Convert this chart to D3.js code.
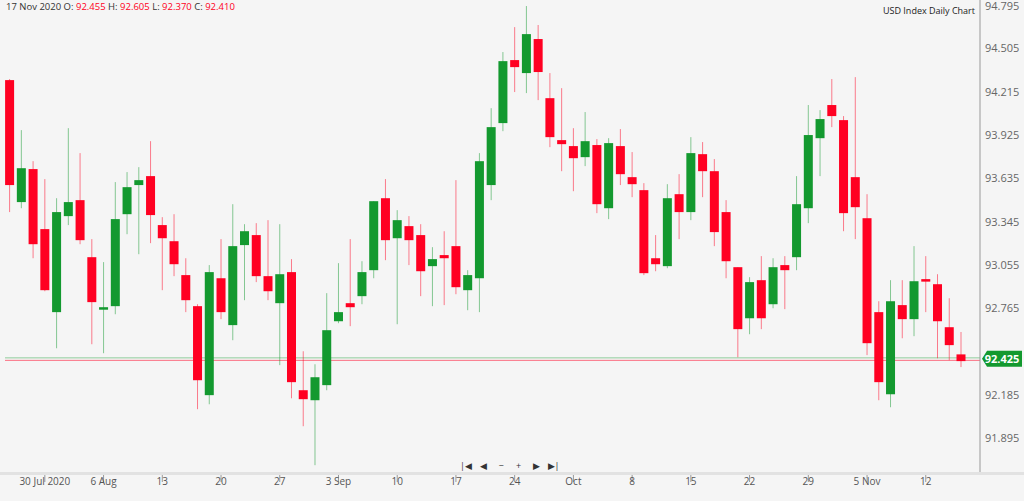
<!DOCTYPE html>
<html><head><meta charset="utf-8">
<script src="https://cdn.jsdelivr.net/npm/d3@7"></script>
<style>body{margin:0;background:#f5f5f5;font-family:"Open Sans",sans-serif}</style>
</head><body><div id="chart"></div>
<script>
// daily OHLC, 27 Jul 2020 .. 17 Nov 2020 (weekdays)
const opens = [94.292,93.475,93.696,93.294,92.738,93.381,93.488,93.106,92.764,92.778,93.394,93.589,93.649,93.321,93.213,92.986,92.778,92.182,92.965,92.651,93.187,93.254,92.979,92.798,93.006,92.215,92.148,92.249,92.677,92.798,92.845,93.019,93.501,93.233,93.314,93.254,93.046,93.120,93.180,92.885,92.965,93.589,94.004,94.426,94.339,94.567,94.171,93.890,93.850,93.776,93.857,93.434,93.850,93.642,93.555,93.099,93.046,93.528,93.408,93.796,93.682,93.408,93.039,92.697,92.952,92.791,93.053,93.106,93.434,93.903,94.125,94.024,93.642,93.367,92.738,92.188,92.785,92.691,92.959,92.925,92.637,92.455];
const highs = [94.299,93.957,93.749,93.629,93.501,93.970,93.803,93.227,93.073,93.609,93.676,93.709,93.883,93.374,93.394,93.099,92.791,93.053,93.227,93.461,93.327,93.334,93.354,93.327,93.093,92.476,92.389,92.865,93.066,93.227,93.079,93.481,93.629,93.421,93.381,93.327,93.173,93.280,93.622,93.019,93.803,94.104,94.480,94.647,94.788,94.661,94.339,94.238,93.970,94.078,93.897,93.903,93.964,93.810,93.602,93.254,93.595,93.662,93.910,93.877,93.763,93.488,93.039,92.972,93.113,93.099,93.113,93.649,94.125,94.091,94.299,94.051,94.312,93.528,92.811,92.952,92.952,93.180,93.113,92.992,92.831,92.605];
const lows = [93.408,93.434,93.099,92.878,92.496,93.321,93.193,92.523,92.463,92.724,93.260,93.126,93.200,92.885,92.979,92.738,92.088,92.121,92.691,92.550,92.818,92.939,92.818,92.383,92.161,91.974,91.713,92.215,92.664,92.644,92.791,92.965,93.086,92.657,93.053,92.845,92.778,92.785,92.858,92.751,92.738,93.488,93.950,94.212,94.205,94.158,93.843,93.682,93.548,93.716,93.401,93.361,93.589,93.508,92.986,93.012,93.032,93.227,93.354,93.508,93.180,92.965,92.436,92.590,92.624,92.764,92.758,93.019,93.334,93.649,93.977,93.280,93.227,92.450,92.148,92.101,92.563,92.577,92.738,92.429,92.416,92.370];
const closes = [93.589,93.702,93.193,92.885,93.408,93.475,93.220,92.805,92.771,93.361,93.575,93.622,93.388,93.233,93.059,92.818,92.282,93.006,92.738,93.180,93.280,92.979,92.878,92.992,92.269,92.155,92.302,92.617,92.738,92.771,93.006,93.481,93.220,93.354,93.220,93.012,93.093,93.099,92.905,92.986,93.749,93.977,94.419,94.379,94.600,94.346,93.910,93.863,93.769,93.883,93.461,93.870,93.662,93.595,92.999,93.059,93.501,93.408,93.803,93.682,93.274,93.079,92.624,92.939,92.697,93.039,93.019,93.461,93.924,94.031,94.051,93.401,93.441,92.530,92.269,92.811,92.691,92.945,92.945,92.677,92.517,92.410];
const priceTicks = [94.795,94.505,94.215,93.925,93.635,93.345,93.055,92.765,92.475,92.185,91.895];
const dateTicks = [[3,'30 Jul 2020'],[8,'6 Aug'],[13,'13'],[18,'20'],[23,'27'],[28,'3 Sep'],[33,'10'],[38,'17'],[43,'24'],[48,'Oct'],[53,'8'],[58,'15'],[63,'22'],[68,'29'],[73,'5 Nov'],[78,'12']];
const lastPrice = 92.425;

const W = 1024, H = 501, plotR = 980, red = '#ff0022', green = '#13992f';
const x = d3.scaleLinear().domain([0, opens.length - 1]).range([9.6, 961]);
const y = d3.scaleLinear().domain([91.895, 94.795]).range([438, 5]);

const svg = d3.select('#chart').append('svg')
  .attr('width', W).attr('height', H)
  .style('background', '#f5f5f5')
  .style('font-family', '"Open Sans", sans-serif');

// price lines
svg.append('line').attr('x1', 5).attr('x2', plotR).attr('y1', y(lastPrice) - 1).attr('y2', y(lastPrice) - 1)
  .attr('stroke', green).attr('stroke-opacity', 0.45);
svg.append('line').attr('x1', 5).attr('x2', plotR).attr('y1', y(lastPrice) + 1.5).attr('y2', y(lastPrice) + 1.5)
  .attr('stroke', red).attr('stroke-opacity', 0.55);

const candles = svg.append('g').selectAll('g')
  .data(opens.map((o, i) => ({ i, o, h: highs[i], l: lows[i], c: closes[i] })))
  .join('g');
candles.append('line')
  .attr('x1', d => x(d.i)).attr('x2', d => x(d.i))
  .attr('y1', d => y(d.h)).attr('y2', d => y(d.l))
  .attr('stroke', d => d.c >= d.o ? green : red).attr('stroke-opacity', 0.5);
candles.append('rect')
  .attr('x', d => x(d.i) - 4.5).attr('width', 9)
  .attr('y', d => y(Math.max(d.o, d.c)))
  .attr('height', d => Math.max(2.5, Math.abs(y(d.o) - y(d.c))))
  .attr('fill', d => d.c >= d.o ? green : red);

// right axis (the tick hidden under the price label is skipped)
svg.append('line').attr('x1', plotR).attr('x2', plotR).attr('y1', 0).attr('y2', 474).attr('stroke', '#999');
svg.append('g').selectAll('text').data(priceTicks.filter(d => Math.abs(y(d) - y(lastPrice)) > 12)).join('text')
  .attr('x', 985).attr('y', d => Math.max(y(d) + 4, 10)).attr('font-size', 11).attr('fill', '#666').text(d => d.toFixed(3));

// last price label
const ly = y(lastPrice);
svg.append('path')
  .attr('d', `M982,${ly} L987,${ly - 8} L1022,${ly - 8} L1022,${ly + 8} L987,${ly + 8} Z`)
  .attr('fill', green);
svg.append('text').attr('x', 1002).attr('y', ly + 4).attr('text-anchor', 'middle')
  .attr('font-size', 11).attr('font-weight', 'bold').attr('fill', '#fff').text(lastPrice.toFixed(3));

// bottom axis
svg.append('rect').attr('x', 0).attr('y', 472).attr('width', W).attr('height', 3).attr('fill', '#e2e2e2');
const bx = svg.append('g').selectAll('g').data(dateTicks).join('g');
bx.append('line').attr('x1', d => x(d[0])).attr('x2', d => x(d[0])).attr('y1', 475).attr('y2', 482).attr('stroke', '#999');
bx.append('text').attr('x', d => x(d[0])).attr('y', 485).attr('text-anchor', 'middle')
  .attr('font-size', 10).attr('fill', '#555').text(d => d[1]);

// nav controls
svg.append('g').selectAll('text').data(['|◀', '◀', '−', '+', '▶', '▶|']).join('text')
  .attr('x', (d, i) => 466 + i * 17.5).attr('y', 469).attr('text-anchor', 'middle')
  .attr('font-size', 9).attr('fill', '#333').text(d => d);

// title and OHLC readout
svg.append('text').attr('x', 975).attr('y', 14).attr('text-anchor', 'end')
  .attr('font-size', 9).attr('fill', '#222').text('USD Index Daily Chart');
const info = svg.append('text').attr('x', 6).attr('y', 10).attr('font-size', 9.5).attr('fill', '#333');
const last = opens.length - 1;
[['17 Nov 2020 O: ', opens[last]], [' H: ', highs[last]], [' L: ', lows[last]], [' C: ', closes[last]]].forEach(([k, v]) => {
  info.append('tspan').attr('fill', '#333').text(k);
  info.append('tspan').attr('fill', red).text(v.toFixed(3));
});
</script></body></html>
